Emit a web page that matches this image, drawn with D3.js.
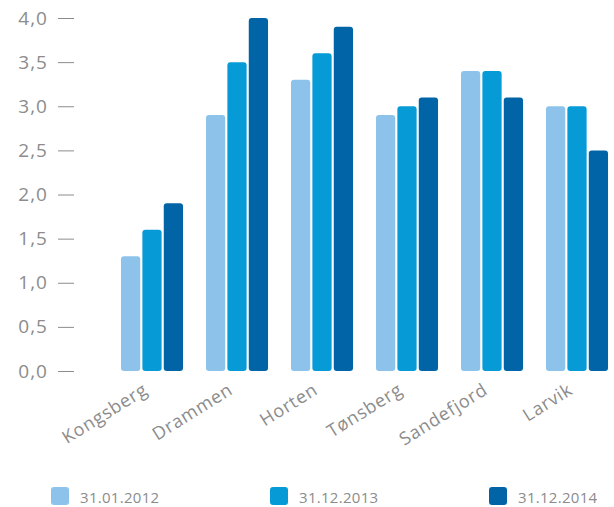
<!DOCTYPE html>
<html><head><meta charset="utf-8">
<script src="https://cdn.jsdelivr.net/npm/d3@7"></script>
<style>body{margin:0;background:#fff}text{font-family:"Open Sans",sans-serif;fill:#8c8c8c}</style>
</head><body><svg id="c" width="614" height="507"></svg>
<script>
const categories=["Kongsberg","Drammen","Horten","Tønsberg","Sandefjord","Larvik"];
const seriesNames=["31.01.2012","31.12.2013","31.12.2014"];
const s2012=[1.3,2.9,3.3,2.9,3.4,3.0];
const s2013=[1.6,3.5,3.6,3.0,3.4,3.0];
const s2014=[1.9,4.0,3.9,3.1,3.1,2.5];
const yTicks=[0,0.5,1,1.5,2,2.5,3,3.5,4];
const colors=["#8dc3ea","#069bd7","#0064a6"];
const series=[s2012,s2013,s2014];

const svg=d3.select("#c");
const y=d3.scaleLinear().domain([0,4]).range([371,18]);
const x0=d3.scaleBand().domain(categories).range([109.5,619.5]).paddingInner(0.27).paddingOuter(0.135);
const x1=d3.scaleBand().domain(seriesNames).range([0,x0.bandwidth()]).paddingInner(0.1);

const ya=svg.append("g").attr("transform","translate(74,0)")
  .call(d3.axisLeft(y).tickValues(yTicks).tickSize(16).tickPadding(10).tickFormat(d=>d3.format(".1f")(d).replace(".",",")));
ya.select(".domain").remove();
ya.selectAll("line").attr("stroke","#8c8c8c").attr("stroke-width",1);
ya.selectAll("text").style("font-size","19px").style("letter-spacing","1px").attr("fill","#8c8c8c");

categories.forEach((c,i)=>{
  const g=svg.append("g").attr("transform",`translate(${x0(c)},0)`);
  series.forEach((s,j)=>{
    g.append("rect").attr("x",x1(seriesNames[j])).attr("y",y(s[i]))
     .attr("width",x1.bandwidth()).attr("height",y(0)-y(s[i]))
     .attr("rx",3).attr("fill",colors[j]);
  });
  svg.append("text").attr("text-anchor","end")
    .attr("transform",`translate(${x0(c)+x0.bandwidth()/2-3},393) rotate(-32)`)
    .style("font-size","18px").style("letter-spacing","0.8px").text(c);
});

const lx=[51,270,489];
seriesNames.forEach((n,j)=>{
  svg.append("rect").attr("x",lx[j]).attr("y",487).attr("width",18).attr("height",18).attr("rx",3).attr("fill",colors[j]);
  svg.append("text").attr("x",lx[j]+29).attr("y",503).style("font-size","15px").style("letter-spacing","0.3px").text(n);
});
</script></body></html>
